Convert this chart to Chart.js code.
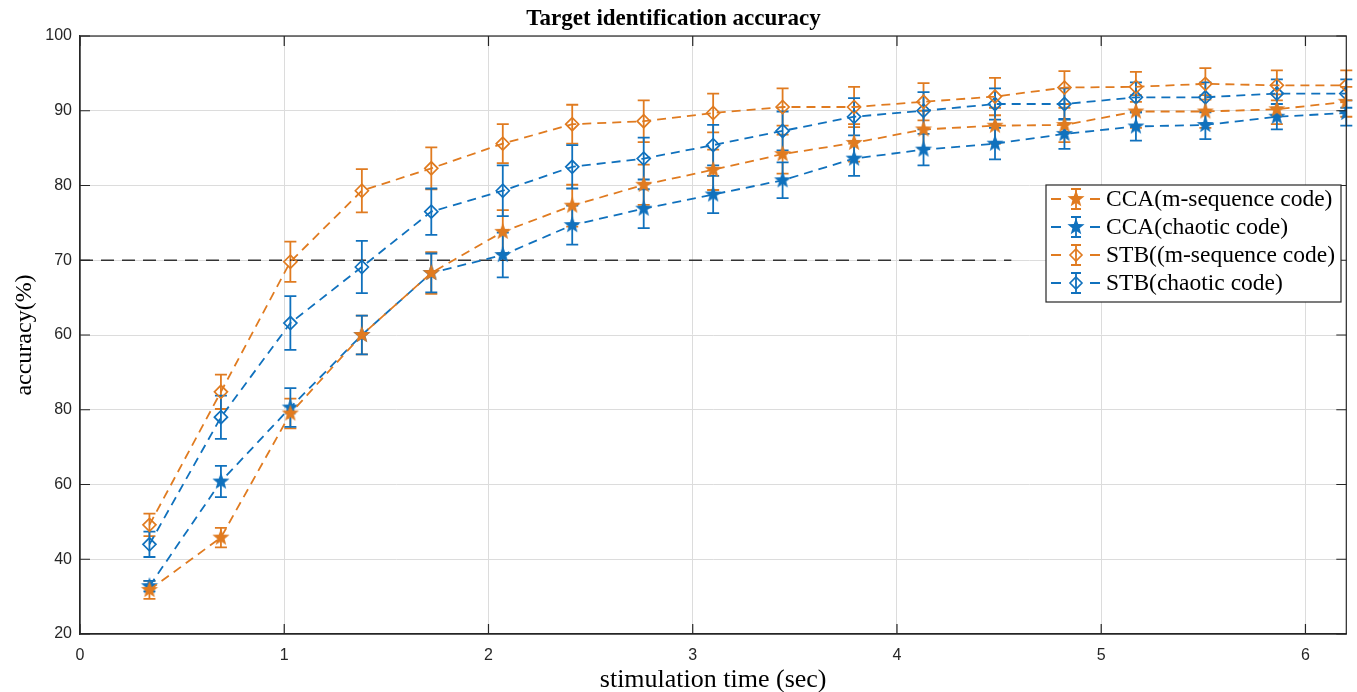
<!DOCTYPE html>
<html>
<head>
<meta charset="utf-8">
<script src="https://cdn.jsdelivr.net/npm/chart.js@4.4.1/dist/chart.umd.min.js"></script>
<style>
  html, body { margin: 0; padding: 0; background: #fff; }
</style>
</head>
<body>
<canvas id="chart" width="1357" height="692"></canvas>
<script>
// values. y values are in plotted axis units
// (the original axis is relabelled: its labels are in yTickLabels)
const stimTime = [0.34, 0.69, 1.03, 1.38, 1.72, 2.07, 2.41, 2.76, 3.10, 3.44, 3.79, 4.13, 4.48, 4.82, 5.17, 5.51, 5.86, 6.20];

const ccaMseq    = [25.9, 32.9, 49.5, 60.0, 68.3, 73.8, 77.3, 80.1, 82.1, 84.2, 85.7, 87.5, 88.0, 88.1, 89.9, 89.9, 90.2, 91.2];
const ccaMseqErr = [1.2, 1.3, 2.0, 2.6, 2.8, 2.9, 2.8, 2.7, 2.7, 2.6, 2.5, 2.5, 2.4, 2.3, 2.2, 2.2, 2.0, 2.0];

const ccaChaos    = [26.4, 40.4, 50.3, 60.0, 68.3, 70.7, 74.7, 76.9, 78.8, 80.7, 83.6, 84.8, 85.6, 86.9, 87.9, 88.1, 89.2, 89.7];
const ccaChaosErr = [0.7, 2.1, 2.6, 2.6, 2.6, 3.0, 2.6, 2.6, 2.5, 2.4, 2.3, 2.1, 2.1, 2.0, 1.9, 1.9, 1.7, 1.7];

const stbMseq    = [34.6, 52.4, 69.8, 79.3, 82.3, 85.6, 88.2, 88.6, 89.7, 90.5, 90.5, 91.2, 91.9, 93.1, 93.2, 93.6, 93.4, 93.4];
const stbMseqErr = [1.5, 2.3, 2.7, 2.9, 2.8, 2.6, 2.6, 2.8, 2.6, 2.5, 2.7, 2.5, 2.5, 2.2, 2.0, 2.1, 2.0, 2.0];

const stbChaos    = [32.0, 49.0, 61.6, 69.1, 76.5, 79.3, 82.5, 83.6, 85.4, 87.3, 89.2, 90.0, 90.9, 90.9, 91.8, 91.8, 92.3, 92.3];
const stbChaosErr = [1.7, 2.9, 3.6, 3.5, 3.1, 3.4, 2.9, 2.8, 2.7, 2.6, 2.5, 2.5, 2.1, 2.1, 2.0, 2.0, 1.9, 1.9];

const refLineX = [0, 4.56];
const refLineY = [70, 70];

const yTickLabels = ['20', '40', '60', '80', '60', '70', '80', '90', '100'];

const ORANGE = '#E07B20';
const BLUE = '#1071BD';
const AXIS = '#262626';
const SERIF = '"Liberation Serif", "Times New Roman", serif';

function starImage(color) {
    const c = document.createElement('canvas');
    c.width = c.height = 22;
    const g = c.getContext('2d');
    g.translate(11, 11);
    g.beginPath();
    for (let i = 0; i < 10; i++) {
        const r = i % 2 ? 3.8 : 9;
        const a = -Math.PI / 2 + i * Math.PI / 5;
        g.lineTo(r * Math.cos(a), r * Math.sin(a));
    }
    g.closePath();
    g.fillStyle = color;
    g.fill();
    return c;
}

const pts = (ys) => ys.map((y, i) => ({ x: stimTime[i], y }));

function series(label, ys, errs, color, marker) {
    const star = marker === 'star';
    return {
        label,
        data: pts(ys),
        errors: errs,
        marker,
        borderColor: color,
        backgroundColor: color,
        borderWidth: 1.8,
        borderDash: [9, 6],
        pointStyle: star ? starImage(color) : 'rectRot',
        pointRadius: star ? 9 : 6.5,
        pointBorderColor: color,
        pointBackgroundColor: 'rgba(0,0,0,0)',
        pointBorderWidth: 1.7,
        tension: 0,
    };
}

// error bars, drawn with the scales of the chart
const errorBars = {
    id: 'errorBars',
    beforeDatasetsDraw(chart) {
        const ctx = chart.ctx;
        const yScale = chart.scales.y;
        chart.data.datasets.forEach((ds, di) => {
            if (!ds.errors) return;
            const meta = chart.getDatasetMeta(di);
            ctx.save();
            ctx.strokeStyle = ds.borderColor;
            ctx.lineWidth = 1.8;
            meta.data.forEach((p, i) => {
                const v = ds.data[i].y, e = ds.errors[i];
                const top = yScale.getPixelForValue(v + e);
                const bot = yScale.getPixelForValue(v - e);
                ctx.beginPath();
                ctx.moveTo(p.x, top); ctx.lineTo(p.x, bot);
                ctx.moveTo(p.x - 6, top); ctx.lineTo(p.x + 6, top);
                ctx.moveTo(p.x - 6, bot); ctx.lineTo(p.x + 6, bot);
                ctx.stroke();
            });
            ctx.restore();
        });
    }
};

// box around the axes with inward tick marks, and the legend box
const frameAndLegend = {
    id: 'frameAndLegend',
    afterDraw(chart) {
        const ctx = chart.ctx;
        const { left, right, top, bottom } = chart.chartArea;
        const xs = chart.scales.x, ys = chart.scales.y;
        ctx.save();
        ctx.strokeStyle = AXIS;
        ctx.lineWidth = 1.2;
        ctx.strokeRect(left, top, right - left, bottom - top);
        ctx.beginPath();
        xs.ticks.forEach(t => {
            const px = xs.getPixelForValue(t.value);
            ctx.moveTo(px, bottom); ctx.lineTo(px, bottom - 10);
            ctx.moveTo(px, top); ctx.lineTo(px, top + 10);
        });
        ys.ticks.forEach(t => {
            const py = ys.getPixelForValue(t.value);
            ctx.moveTo(left, py); ctx.lineTo(left + 10, py);
            ctx.moveTo(right, py); ctx.lineTo(right - 10, py);
        });
        ctx.stroke();

        // legend
        const lx = 1046, ly = 185, lw = 295, lh = 117;
        ctx.fillStyle = '#fff';
        ctx.fillRect(lx, ly, lw, lh);
        ctx.strokeStyle = AXIS;
        ctx.lineWidth = 1.2;
        ctx.strokeRect(lx, ly, lw, lh);
        ctx.font = '23.5px ' + SERIF;
        ctx.textBaseline = 'middle';
        let row = 0;
        chart.data.datasets.forEach(ds => {
            if (!ds.errors) return;
            const cy = ly + 14 + row * 28;
            const cx = lx + 30;
            ctx.strokeStyle = ds.borderColor;
            ctx.lineWidth = 1.8;
            ctx.beginPath();
            ctx.moveTo(lx + 5, cy); ctx.lineTo(lx + 15, cy);
            ctx.moveTo(lx + 44, cy); ctx.lineTo(lx + 54, cy);
            ctx.moveTo(cx, cy - 10); ctx.lineTo(cx, cy + 10);
            ctx.moveTo(cx - 5, cy - 10); ctx.lineTo(cx + 5, cy - 10);
            ctx.moveTo(cx - 5, cy + 10); ctx.lineTo(cx + 5, cy + 10);
            ctx.stroke();
            if (ds.marker === 'star') {
                ctx.drawImage(ds.pointStyle, cx - 11, cy - 11);
            } else {
                ctx.beginPath();
                ctx.moveTo(cx, cy - 6); ctx.lineTo(cx + 6, cy);
                ctx.lineTo(cx, cy + 6); ctx.lineTo(cx - 6, cy);
                ctx.closePath();
                ctx.lineWidth = 1.6;
                ctx.stroke();
            }
            ctx.fillStyle = '#000';
            ctx.fillText(ds.label, lx + 60, cy + 1);
            row++;
        });
        ctx.restore();
    }
};

new Chart(document.getElementById('chart'), {
    type: 'line',
    data: {
        datasets: [
            series('CCA(m-sequence code)', ccaMseq, ccaMseqErr, ORANGE, 'star'),
            series('CCA(chaotic code)', ccaChaos, ccaChaosErr, BLUE, 'star'),
            series('STB((m-sequence code)', stbMseq, stbMseqErr, ORANGE, 'diamond'),
            series('STB(chaotic code)', stbChaos, stbChaosErr, BLUE, 'diamond'),
            {
                label: 'threshold',
                data: refLineX.map((x, i) => ({ x, y: refLineY[i] })),
                borderColor: '#333',
                borderWidth: 1.4,
                borderDash: [13, 8],
                pointRadius: 0,
            },
        ],
    },
    options: {
        responsive: false,
        animation: false,
        events: [],
        layout: { padding: { left: 0, right: 10, top: 0, bottom: 0 } },
        plugins: {
            legend: { display: false },
            tooltip: { enabled: false },
            title: {
                display: true,
                text: 'Target identification accuracy',
                color: '#000',
                font: { family: SERIF, size: 23, weight: 'bold', lineHeight: 1.2 },
                padding: { top: 5, bottom: 3.4 },
            },
        },
        scales: {
            x: {
                type: 'linear',
                min: 0,
                max: 6.2,
                afterFit: (s) => { s.height = 58; },
                grid: { color: '#dcdcdc', drawTicks: false },
                border: { color: AXIS, width: 1.2 },
                ticks: {
                    stepSize: 1,
                    includeBounds: false,
                    autoSkip: false,
                    maxRotation: 0,
                    padding: 12,
                    color: AXIS,
                    font: { family: '"Liberation Sans", Arial, sans-serif', size: 16 },
                },
                title: {
                    display: true,
                    text: 'stimulation time (sec)',
                    color: '#000',
                    font: { family: SERIF, size: 26, lineHeight: 1 },
                    padding: { top: 0, bottom: -1 },
                },
            },
            y: {
                min: 20,
                max: 100,
                afterFit: (s) => { s.width = 80; },
                grid: { color: '#dcdcdc', drawTicks: false },
                border: { color: AXIS, width: 1.2 },
                ticks: {
                    stepSize: 10,
                    autoSkip: false,
                    padding: 8,
                    color: AXIS,
                    font: { family: '"Liberation Sans", Arial, sans-serif', size: 16 },
                    callback: (v) => yTickLabels[Math.round((v - 20) / 10)],
                },
                title: {
                    display: true,
                    text: 'accuracy(%)',
                    color: '#000',
                    font: { family: SERIF, size: 24, lineHeight: 1 },
                    padding: { top: 13, bottom: 0 },
                },
            },
        },
    },
    plugins: [errorBars, frameAndLegend],
});
</script>
</body>
</html>
